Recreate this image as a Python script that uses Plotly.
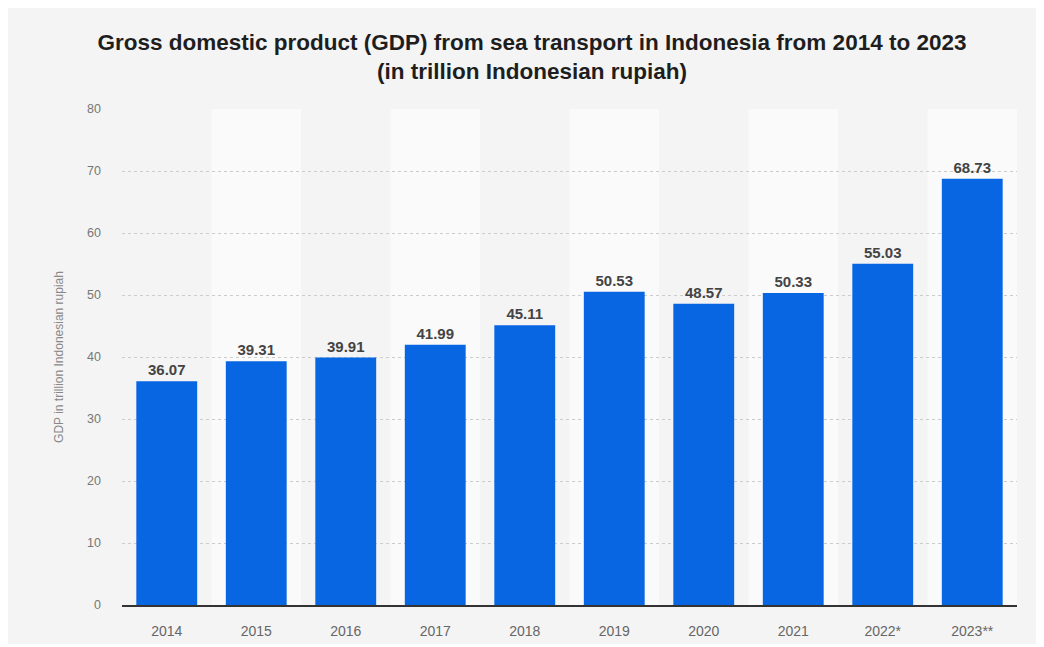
import plotly.graph_objects as go

years = ["2014", "2015", "2016", "2017", "2018", "2019", "2020", "2021", "2022*", "2023**"]
gdp = [36.07, 39.31, 39.91, 41.99, 45.11, 50.53, 48.57, 50.33, 55.03, 68.73]
y_ticks = [0, 10, 20, 30, 40, 50, 60, 70, 80]

# page body has an 8px margin, so the figure starts at (8, 8)
OFF = 8
W, H = 1044 - OFF, 644 - OFF
ML, MR, MT, MB = 122 - OFF, 27, 109 - OFF, 644 - 605

fig = go.Figure()
fig.add_trace(go.Bar(
    x=list(range(len(years))), y=gdp,
    marker=dict(color="#0866e3", line=dict(width=0)),
    width=0.68,
    text=[f"{v:.2f}" for v in gdp],
    textposition="outside",
    textfont=dict(family="Liberation Sans, Arial", size=15, color="#444444", weight="bold"),
    cliponaxis=False,
    hoverinfo="skip",
))

shapes = []
for i in range(len(years)):
    if i % 2 == 1:
        shapes.append(dict(type="rect", xref="x", yref="paper", x0=i - 0.5, x1=i + 0.5,
                           y0=0, y1=1, fillcolor="#fafafa", line=dict(width=0), layer="below"))

fig.update_layout(
    width=W, height=H,
    margin=dict(l=ML, r=MR, t=MT, b=MB, autoexpand=False),
    paper_bgcolor="#f4f4f4",
    plot_bgcolor="#f4f4f4",
    showlegend=False,
    shapes=shapes,
    title=dict(
        text="Gross domestic product (GDP) from sea transport in Indonesia from 2014 to 2023<br>(in trillion Indonesian rupiah)",
        xref="container", x=(532 - OFF) / W, xanchor="center",
        yref="container", y=1 - 42 / H, yanchor="top",
        font=dict(family="Liberation Sans, Arial", size=22.5, color="#1e1e1e", weight="bold"),
    ),
    font=dict(family="Liberation Sans, Arial", color="#666666"),
)
fig.update_xaxes(
    range=[-0.5, len(years) - 0.5],
    tickmode="array", tickvals=list(range(len(years))), ticktext=years,
    tickfont=dict(size=14, color="#666666"),
    showgrid=False, zeroline=False,
    showline=True, linecolor="#333333", linewidth=1.5,
    ticks="", ticklabelstandoff=12,
)
fig.update_yaxes(
    range=[0, 80],
    tickmode="array", tickvals=y_ticks,
    tickfont=dict(size=12.5, color="#777777"),
    showgrid=True, gridcolor="#cccccc", griddash="dot", gridwidth=1,
    zeroline=False, showline=False, ticks="",
    ticklabelstandoff=20,
    title=dict(text="GDP in trillion Indonesian rupiah", font=dict(size=12, color="#888888"), standoff=20),
)
fig.write_html("out.html")
